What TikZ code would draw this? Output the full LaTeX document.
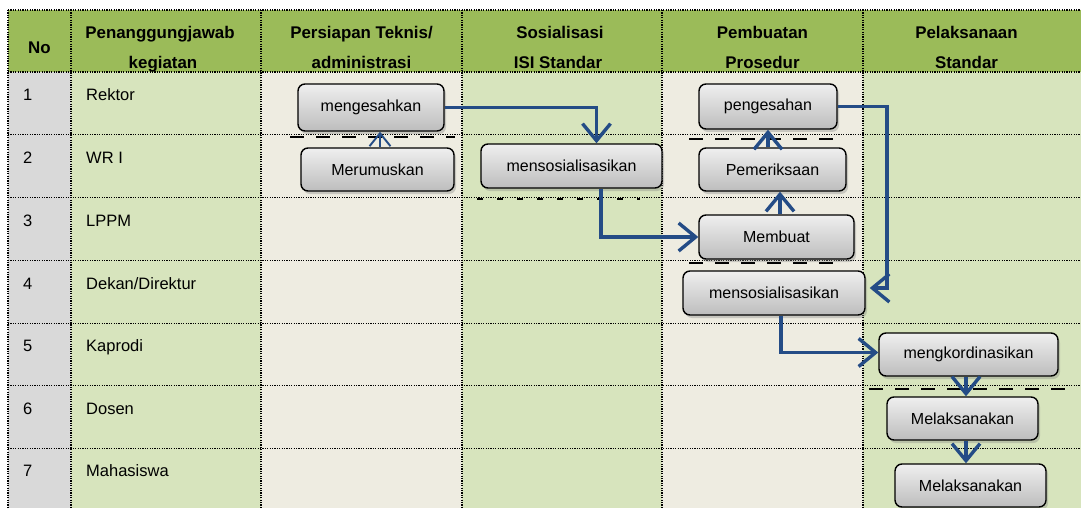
\documentclass[tikz,border=0pt]{standalone}
\usepackage{fontspec}
\setmainfont{Liberation Sans}
\usetikzlibrary{arrows.meta,shadows,calc}
\definecolor{hdr}{HTML}{9BBB59}
\definecolor{lgreen}{HTML}{D7E4BD}
\definecolor{beige}{HTML}{EEECE1}
\definecolor{lgray}{HTML}{D9D9D9}
\definecolor{arrblue}{HTML}{244C86}
\definecolor{boxtop}{HTML}{EFEFEF}
\definecolor{boxbot}{HTML}{BDBDBD}
\begin{document}
\begin{tikzpicture}[x=1pt,y=-1pt,
  gridline/.style={line width=1.2pt,black,dash pattern=on 1.2pt off 1.2pt},
  hdrtext/.style={font=\fontsize{16.9}{20}\selectfont\bfseries, inner sep=0pt, anchor=base},
  celltext/.style={font=\fontsize{16.5}{20}\selectfont, anchor=base west, inner sep=0pt},
  procbox/.style={draw=black,line width=1.4pt,rounded corners=7pt, top color=boxtop,bottom color=boxbot,
    font=\fontsize{16}{19}\selectfont, inner sep=0pt,
    drop shadow={shadow xshift=2pt,shadow yshift=-3pt,fill=black!50,opacity=0.35}},
  flow/.style={draw=arrblue,line width=3.4pt,-{Straight Barb[length=17pt,width=28pt]}},
  thinflow/.style={draw=arrblue,line width=1.9pt,-{Straight Barb[length=13pt,width=21pt]}},
  artifact/.style={black,line width=2pt,dash pattern=on 14pt off 12pt}
]
\useasboundingbox (0,0) rectangle (1081,508);
\fill[white] (0,0) rectangle (1081,508);
% backgrounds
\fill[hdr] (8,10) rectangle (1081,72);
\fill[lgray] (8,72) rectangle (71,508);
\fill[lgreen] (71,72) rectangle (261,508);
\fill[beige] (261,72) rectangle (462,508);
\fill[lgreen] (462,72) rectangle (662,508);
\fill[beige] (662,72) rectangle (863,508);
\fill[lgreen] (863,72) rectangle (1081,508);
% grid
\foreach \yy in {10,72,134.8,197.5,260.7,323.3,385.8,448.3}
  \draw[gridline] (8,\yy) -- (1081,\yy);
\foreach \xx in {8,71,261,462,662,863}
  \draw[gridline] (\xx,10) -- (\xx,508);
% header
\node[hdrtext] (hNo) at (39.5,53.5) {No};
\node[hdrtext] (hPa) at (160,39) {Penanggungjawab};
\node[hdrtext] (hPb) at (163,69) {kegiatan};
\node[hdrtext] (hTa) at (361.5,39) {Persiapan Teknis/};
\node[hdrtext] (hTb) at (361.5,69) {administrasi};
\node[hdrtext] (hSa) at (560,39) {Sosialisasi};
\node[hdrtext] (hSb) at (558,69) {ISI Standar};
\node[hdrtext] (hBa) at (762.5,39) {Pembuatan};
\node[hdrtext] (hBb) at (762.5,69) {Prosedur};
\node[hdrtext] (hLa) at (966.5,39) {Pelaksanaan};
\node[hdrtext] (hLb) at (966.5,69) {Standar};
% rows
\node[celltext] (n1) at (23,101) {1};
\node[celltext] (r1) at (86,101) {Rektor};
\node[celltext] (n2) at (23,163.3) {2};
\node[celltext] (r2) at (86,163.3) {WR I};
\node[celltext] (n3) at (23,226) {3};
\node[celltext] (r3) at (86,226) {LPPM};
\node[celltext] (n4) at (23,289) {4};
\node[celltext] (r4) at (86,289) {Dekan/Direktur};
\node[celltext] (n5) at (23,351.8) {5};
\node[celltext] (r5) at (86,351.8) {Kaprodi};
\node[celltext] (n6) at (23,414.3) {6};
\node[celltext] (r6) at (86,414.3) {Dosen};
\node[celltext] (n7) at (23,476.8) {7};
\node[celltext] (r7) at (86,476.8) {Mahasiswa};
% artifacts (dashes under boxes)
\draw[artifact] (290,137) -- (455,137);
\draw[artifact] (689,139) -- (834,139);
\draw[artifact] (689,263) -- (838,263);
\draw[artifact] (869,389) -- (1069,389);
\draw[artifact,line width=1.5pt,dash pattern=on 6pt off 14pt] (477,199) -- (640,199);
% boxes
\node[procbox,minimum width=146pt,minimum height=47pt] (m1) at (371,107.5) {mengesahkan};
\node[procbox,minimum width=153pt,minimum height=43pt] (m2) at (377.5,169.5) {Merumuskan};
\node[procbox,minimum width=181pt,minimum height=44pt] (m3) at (571.5,166) {mensosialisasikan};
\node[procbox,minimum width=138pt,minimum height=45pt] (p1) at (768,106.5) {pengesahan};
\node[procbox,minimum width=147pt,minimum height=43pt] (p2) at (772.5,169.5) {Pemeriksaan};
\node[procbox,minimum width=155pt,minimum height=44pt] (p3) at (776.5,237) {Membuat};
\node[procbox,minimum width=182pt,minimum height=44pt] (p4) at (774,293) {mensosialisasikan};
\node[procbox,minimum width=179pt,minimum height=43pt] (s1) at (968.5,354.5) {mengkordinasikan};
\node[procbox,minimum width=151pt,minimum height=43pt] (s2) at (962.5,418.5) {Melaksanakan};
\node[procbox,minimum width=151pt,minimum height=43pt] (s3) at (970.5,485.5) {Melaksanakan};
% connectors
\draw[thinflow] ([xshift=2.5pt]m2.north) -- ([xshift=2.5pt]m2.north |- m1.south);
\draw[flow] (m1.east) -| ([xshift=25pt]m3.north);
\draw[flow] ([xshift=29.5pt]m3.south) |- (p3.west);
\draw[flow] ([xshift=3.5pt]p3.north) -- ([xshift=3.5pt]p3.north |- p2.south);
\draw[flow] (p1.south |- p2.north) -- (p1.south);
\coordinate (c6) at (887,0);
\coordinate (p4e) at ([yshift=5pt]p4.east);
\draw[flow,shorten >=4pt] (p1.east) -| (c6 |- p4e) -- (p4e);
\draw[flow] ([xshift=7pt]p4.south) |- ([yshift=2pt]s1.west);
\draw[flow] ([xshift=-2.5pt]s1.south) -- ([xshift=-2.5pt]s1.south |- s2.north);
\draw[flow] ([xshift=3.5pt]s2.south) -- ([xshift=3.5pt]s2.south |- s3.north);
\end{tikzpicture}
\end{document}
